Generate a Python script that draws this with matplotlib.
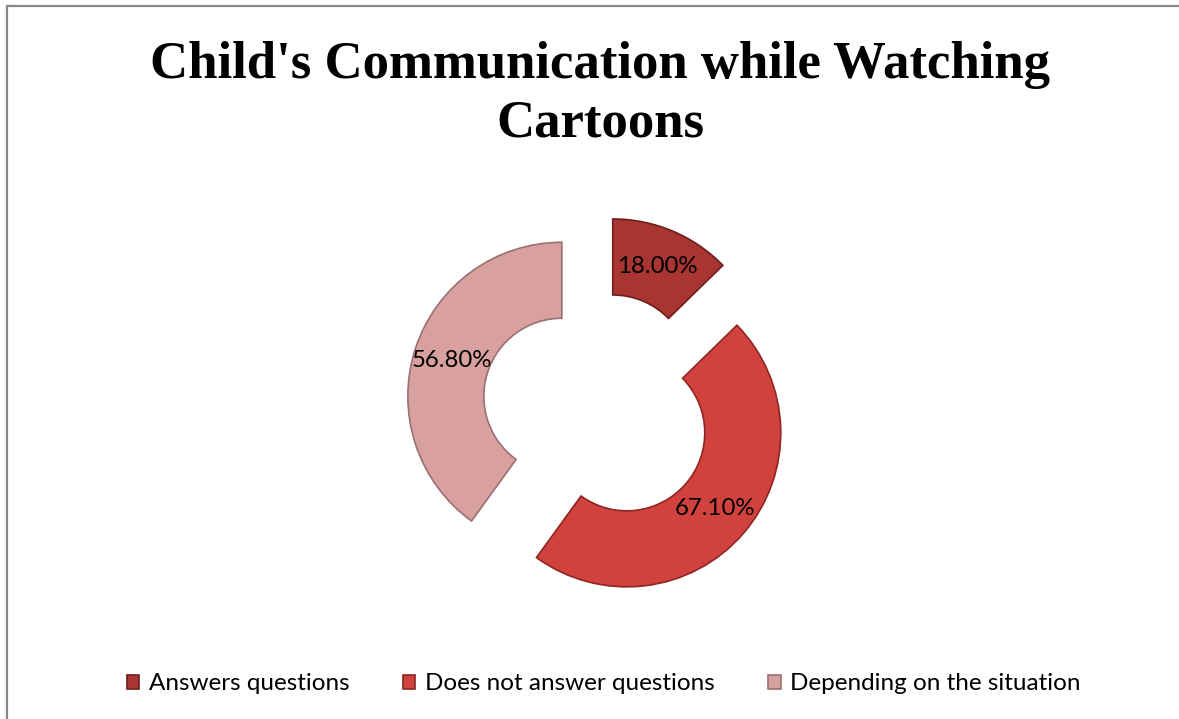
import matplotlib.pyplot as plt
from matplotlib.lines import Line2D

categories = ['Answers questions', 'Does not answer questions', 'Depending on the situation']
values = [18.00, 67.10, 56.80]
colors = ['#A83532', '#D1423E', '#D9A0A0']
edges = ['#6E1E1C', '#8E2623', '#9A7070']

total = sum(values)

fig = plt.figure(figsize=(11.79, 7.19), dpi=100)
ax = fig.add_axes([0, 0, 1, 1])

# pixel-like data coords, y up
wedges, texts, autotexts = ax.pie(
    values, colors=colors, startangle=90, counterclock=False,
    radius=154, center=(598, 311), explode=[38, 38, 38],
    wedgeprops=dict(width=76, linewidth=1.2),
    autopct=lambda p: '{:.2f}%'.format(p * total / 100),
    pctdistance=0.753,
    textprops=dict(fontsize=17.3, family='Lato', color='black'))
for w, ec in zip(wedges, edges):
    w.set_edgecolor(ec)

ax.set_xlim(0, 1179)
ax.set_ylim(0, 719)
ax.set_aspect('equal')
ax.axis('off')

# chart frame (top and left edges)
fig.add_artist(Line2D([7.5 / 1179, 1], [1 - 5.5 / 719, 1 - 5.5 / 719],
                      transform=fig.transFigure, color='#888888', lw=1.6))
fig.add_artist(Line2D([7.5 / 1179, 7.5 / 1179], [0, 1 - 5.5 / 719],
                      transform=fig.transFigure, color='#888888', lw=1.6))

fig.text(600 / 1179, 1 - 94 / 719, "Child's Communication while Watching\nCartoons",
         ha='center', va='center', fontsize=38, fontweight='bold',
         family='Liberation Serif', linespacing=1.29)

ax.legend(wedges, categories, ncol=3, loc='center',
          bbox_to_anchor=(604 / 1179, 35 / 719), bbox_transform=fig.transFigure,
          frameon=False, handlelength=0.5, handleheight=0.5,
          handletextpad=0.4, columnspacing=2.2,
          prop=dict(family='Lato', size=17.5))

fig.savefig('out.png', dpi=100)
